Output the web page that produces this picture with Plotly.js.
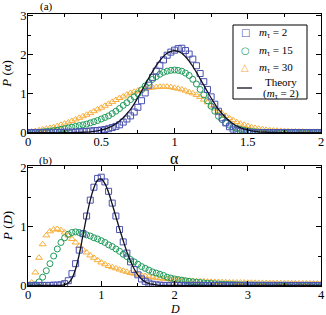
<!DOCTYPE html>
<html><head><meta charset="utf-8">
<script src="https://cdn.plot.ly/plotly-3.0.1.min.js"></script>
<style>html,body{margin:0;padding:0;background:#fff}#c{width:326px;height:315px}</style>
</head><body><div id="c"></div>
<script>
// grids
const alpha = Array.from({length:81}, (_, i) => +(i*0.025).toFixed(3));
const dval = Array.from({length:81}, (_, i) => +(i*0.05).toFixed(2));

// panel (a): P(alpha)
const topBlue = [0,0,0,0,0,0,0,0,0.005,0.005,
 0.01,0.01,0.01,0.015,0.02,0.025,0.03,0.04,0.05,0.055,
 0.065,0.08,0.1,0.13,0.16,0.2,0.27,0.35,0.43,0.53,
 0.65,0.82,1.02,1.22,1.42,1.58,1.73,1.87,1.99,2.07,
 2.12,2.16,2.17,2.11,2.02,1.89,1.72,1.52,1.31,1.11,
 0.92,0.73,0.55,0.38,0.25,0.15,0.09,0.05,0.03,0.02,
 0.01,0,0,0,0,0,0,0,0,0,
 0,0,0,0,0,0,0,0,0,0,
 0];
const topGreen = [0,0,0.01,0.01,0.02,0.03,0.04,0.05,0.06,0.08,
 0.1,0.12,0.14,0.16,0.18,0.2,0.22,0.25,0.28,0.31,
 0.35,0.39,0.43,0.49,0.55,0.62,0.7,0.77,0.85,0.92,
 1.0,1.1,1.2,1.29,1.37,1.44,1.5,1.55,1.58,1.6,
 1.61,1.6,1.58,1.53,1.47,1.37,1.25,1.11,0.97,0.82,
 0.68,0.55,0.42,0.33,0.25,0.19,0.14,0.11,0.08,0.06,
 0.04,0.03,0.02,0.015,0.01,0.005,0.005,0,0,0,
 0,0,0,0,0,0,0,0,0,0,
 0];
const topOrange = [0.02,0.03,0.04,0.06,0.08,0.1,0.12,0.14,0.17,0.2,
 0.23,0.26,0.3,0.34,0.38,0.42,0.46,0.5,0.55,0.6,
 0.64,0.69,0.74,0.79,0.84,0.89,0.93,0.98,1.02,1.05,
 1.08,1.11,1.13,1.15,1.16,1.17,1.18,1.18,1.18,1.17,
 1.15,1.13,1.11,1.08,1.04,1.01,0.97,0.92,0.85,0.78,
 0.7,0.62,0.55,0.49,0.43,0.37,0.32,0.27,0.23,0.2,
 0.17,0.14,0.12,0.1,0.09,0.07,0.06,0.055,0.05,0.045,
 0.04,0.035,0.03,0.03,0.025,0.025,0.02,0.02,0.02,0.02,
 0.02];
const topTheory = [0,0,0,0,0,0,0,0,0,0,
 0,0,0.002,0.004,0.006,0.009,0.014,0.021,0.032,0.047,
 0.066,0.09,0.13,0.17,0.23,0.3,0.38,0.49,0.6,0.74,
 0.9,1.07,1.24,1.41,1.57,1.72,1.85,1.96,2.04,2.09,
 2.11,2.09,2.04,1.95,1.84,1.7,1.55,1.38,1.22,1.05,
 0.89,0.74,0.6,0.49,0.38,0.3,0.23,0.17,0.13,0.09,
 0.066,0.047,0.032,0.021,0.014,0.009,0.006,0.004,0.002,0,
 0,0,0,0,0,0,0,0,0,0,
 0];

// panel (b): P(D)
const botBlue = [0,0,0,0,0,0,0,0.005,0.005,0.01,
 0.03,0.08,0.2,0.37,0.6,0.88,1.18,1.45,1.67,1.82,
 1.84,1.76,1.6,1.4,1.18,0.95,0.74,0.55,0.4,0.27,
 0.18,0.11,0.07,0.04,0.02,0.01,0.005,0,0,0,
 0,0,0,0,0,0,0,0,0,0,
 0,0,0,0,0,0,0,0,0,0,
 0,0,0,0,0,0,0,0,0,0,
 0,0,0,0,0,0,0,0,0,0,
 0];
const botGreen = [0,0,0.01,0.06,0.14,0.25,0.37,0.5,0.62,0.73,
 0.81,0.87,0.9,0.91,0.9,0.88,0.86,0.84,0.81,0.79,
 0.76,0.73,0.69,0.66,0.62,0.58,0.53,0.49,0.44,0.4,
 0.36,0.32,0.29,0.26,0.23,0.21,0.19,0.17,0.14,0.125,
 0.11,0.1,0.09,0.08,0.07,0.062,0.055,0.048,0.042,0.037,
 0.032,0.028,0.024,0.021,0.018,0.016,0.014,0.012,0.01,0.009,
 0.008,0.007,0.006,0.005,0.005,0.004,0.004,0.003,0.003,0.003,
 0.002,0.002,0.002,0.002,0.001,0.001,0.001,0.001,0.001,0.001,
 0.001];
const botOrange = [0,0.05,0.22,0.47,0.7,0.85,0.92,0.95,0.96,0.94,
 0.9,0.85,0.79,0.73,0.67,0.61,0.56,0.51,0.47,0.43,
 0.39,0.36,0.33,0.31,0.29,0.27,0.25,0.23,0.21,0.2,
 0.18,0.17,0.16,0.15,0.14,0.13,0.12,0.115,0.11,0.1,
 0.095,0.09,0.085,0.08,0.078,0.075,0.072,0.07,0.067,0.065,
 0.062,0.06,0.058,0.056,0.054,0.052,0.05,0.049,0.048,0.047,
 0.046,0.045,0.044,0.043,0.042,0.041,0.04,0.04,0.039,0.038,
 0.038,0.037,0.036,0.036,0.035,0.035,0.034,0.034,0.033,0.033,
 0.032];
const botTheory = [0,0,0,0,0,0,0,0,0,0,
 0.01,0.04,0.12,0.28,0.53,0.85,1.17,1.45,1.66,1.79,
 1.81,1.73,1.58,1.38,1.17,0.96,0.76,0.57,0.41,0.28,
 0.18,0.11,0.06,0.03,0.02,0.01,0,0,0,0,
 0,0,0,0,0,0,0,0,0,0,
 0,0,0,0,0,0,0,0,0,0,
 0,0,0,0,0,0,0,0,0,0,
 0,0,0,0,0,0,0,0,0,0,
 0];

const seriesNames = ['<i>m</i><sub>τ</sub> = 2', '<i>m</i><sub>τ</sub> = 15', '<i>m</i><sub>τ</sub> = 30', 'Theory', '(<i>m</i><sub>τ</sub> = 2)'];

const cBlue = '#4b52b0', cGreen = '#1e9b5b', cOrange = '#f7ae3a', cTheory = '#101020';
const FONT = 'Liberation Serif, Times New Roman, serif';

function mk(x, y, sym, col, name, xa, ya) {
  return {x: x, y: y, type: 'scatter', mode: 'markers', name: name, xaxis: xa, yaxis: ya, showlegend: false,
    marker: {symbol: sym, size: 6, color: col, line: {color: col, width: 1}}};
}
const traces = [
  mk(alpha, topOrange, 'triangle-up-open', cOrange, seriesNames[2], 'x', 'y'),
  mk(alpha, topGreen, 'circle-open', cGreen, seriesNames[1], 'x', 'y'),
  mk(alpha, topBlue, 'square-open', cBlue, seriesNames[0], 'x', 'y'),
  {x: alpha, y: topTheory, type: 'scatter', mode: 'lines', name: 'Theory', xaxis: 'x', yaxis: 'y', showlegend: false,
   line: {color: cTheory, width: 1.3, shape: 'spline'}},
  mk(dval, botOrange, 'triangle-up-open', cOrange, seriesNames[2], 'x2', 'y2'),
  mk(dval, botGreen, 'circle-open', cGreen, seriesNames[1], 'x2', 'y2'),
  mk(dval, botBlue, 'square-open', cBlue, seriesNames[0], 'x2', 'y2'),
  {x: dval, y: botTheory, type: 'scatter', mode: 'lines', name: 'Theory', xaxis: 'x2', yaxis: 'y2', showlegend: false,
   line: {color: cTheory, width: 1.3, shape: 'spline'}}
];

const axBase = {showline: true, linecolor: '#000', linewidth: 1, mirror: 'ticks', ticks: 'inside', ticklen: 5, tickwidth: 1,
  tickcolor: '#000', showgrid: false, zeroline: false, tickfont: {family: FONT, size: 12.5, color: '#000'}, ticklabelstandoff: -2};

// legend placement helpers (pixel -> paper fraction)
const px = v => (v - 28) / 293;
const py = v => (286 - v) / 272;
const A = (text, x, y, opts) => Object.assign({text: text, xref: 'paper', yref: 'paper', x: x, y: y, showarrow: false,
  xanchor: 'left', yanchor: 'middle', font: {family: FONT, size: 11, color: '#000'}}, opts || {});

const legendAnn = [
  A('□', px(239), py(33), {font: {family: 'DejaVu Sans', size: 10, color: cBlue}}),
  A('○', px(239), py(51), {font: {family: 'DejaVu Sans', size: 10, color: cGreen}}),
  A('△', px(239), py(68), {font: {family: 'DejaVu Sans', size: 10, color: cOrange}}),
  A(seriesNames[0], px(257), py(33)),
  A(seriesNames[1], px(257), py(51)),
  A(seriesNames[2], px(257), py(68)),
  A(seriesNames[3], px(281), py(81.5), {xanchor: 'center'}),
  A(seriesNames[4], px(281), py(94.5), {xanchor: 'center'})
];

const layout = {
  width: 326, height: 315,
  margin: {l: 28, r: 5, t: 14, b: 29},
  paper_bgcolor: '#fff', plot_bgcolor: '#fff',
  font: {family: FONT, color: '#000'},
  showlegend: false,
  xaxis: Object.assign({}, axBase, {domain: [0, 1], anchor: 'y', range: [0, 2], dtick: 0.5, ticklabelstandoff: -3,
    minor: {dtick: 0.25, ticks: 'inside', ticklen: 3, tickcolor: '#000'}}),
  yaxis: Object.assign({}, axBase, {domain: [0.5625, 1], anchor: 'x', range: [-0.01, 3.05], dtick: 1,
    minor: {dtick: 0.5, ticks: 'inside', ticklen: 3, tickcolor: '#000'}}),
  xaxis2: Object.assign({}, axBase, {domain: [0, 1], anchor: 'y2', range: [0, 4], dtick: 1, ticklabelstandoff: -3,
    minor: {dtick: 0.5, ticks: 'inside', ticklen: 3, tickcolor: '#000'}}),
  yaxis2: Object.assign({}, axBase, {domain: [0, 0.441], anchor: 'x2', range: [-0.01, 2.03], dtick: 1,
    minor: {dtick: 0.5, ticks: 'inside', ticklen: 3, tickcolor: '#000'}}),
  shapes: [
    {type: 'rect', xref: 'paper', yref: 'paper', x0: px(233), x1: px(307), y0: py(99), y1: py(25),
     line: {color: '#000', width: 1}, fillcolor: '#fff', layer: 'above'},
    {type: 'line', xref: 'paper', yref: 'paper', x0: px(237), x1: px(252), y0: py(88), y1: py(88),
     line: {color: cTheory, width: 1.3}, layer: 'above'}
  ],
  annotations: [
    A('(a)', 0.035, 1.029),
    A('(b)', 0.03, 0.46),
    A('<i>P</i> (α)', -0.072, 0.78, {xanchor: 'center', textangle: -90, font: {family: FONT, size: 13}}),
    A('<i>P</i> (<i>D</i>)', -0.072, 0.22, {xanchor: 'center', textangle: -90, font: {family: FONT, size: 13}}),
    A('α', 0.5, 0.47, {xanchor: 'center', font: {family: FONT, size: 16}}),
    A('<i>D</i>', 0.5, -0.083, {xanchor: 'center', font: {family: FONT, size: 12}})
  ].concat(legendAnn)
};
Plotly.newPlot('c', traces, layout, {staticPlot: true, displayModeBar: false});
</script></body></html>
